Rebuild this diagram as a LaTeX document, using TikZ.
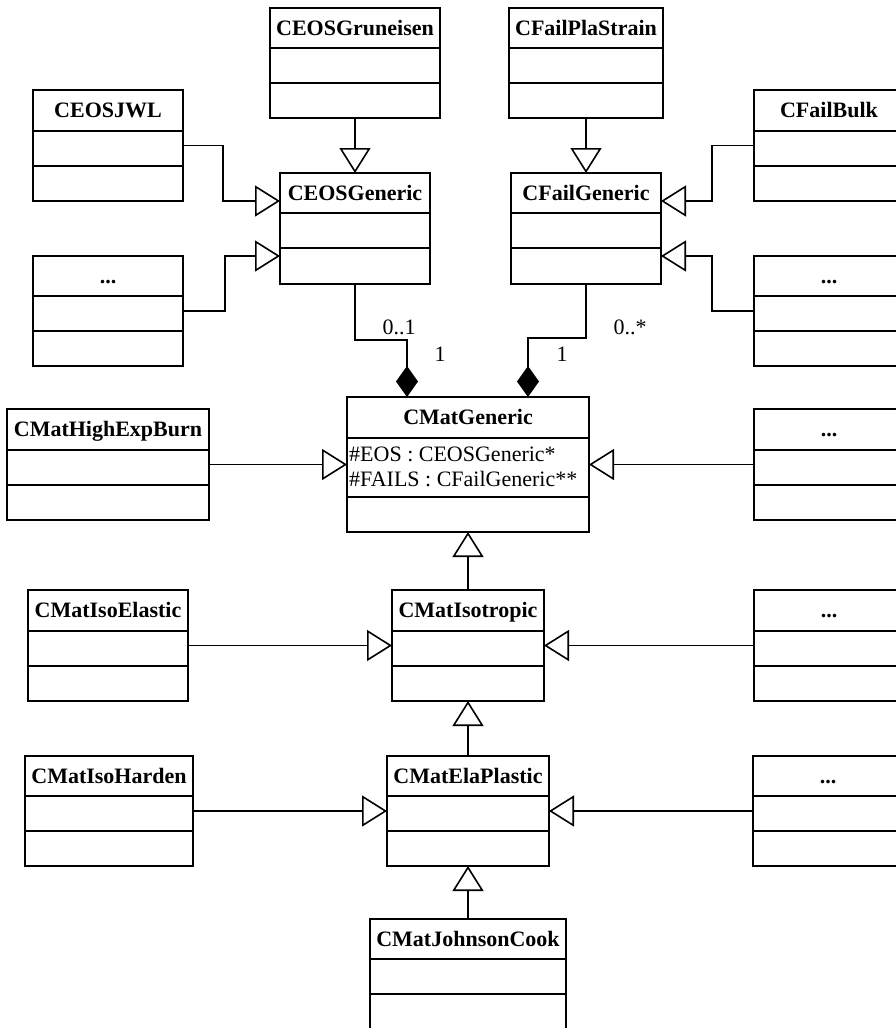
\documentclass[tikz,border=0pt]{standalone}
\usepackage{fontspec}
\setmainfont{Liberation Serif}
\usetikzlibrary{arrows.meta,calc}
\newcommand\umlclass[8]{%
  \node[box, anchor=north west, minimum width=#4pt, minimum height=#5pt+#6pt+#7pt] (#1) at (#2,#3) {};
  \node[ttl] (#1-title) at ($(#1.north)+(0,#5/2)$) {#8};
  \draw[sep] ($(#1.north west)+(0,#5)$) -- ($(#1.north east)+(0,#5)$);
  \draw[sep] ($(#1.north west)+(0,#5+#6)$) -- ($(#1.north east)+(0,#5+#6)$);
}
\begin{document}
\begin{tikzpicture}[x=1pt,y=-1pt,
  box/.style={draw, line width=1.8pt, outer sep=0pt, inner sep=0pt, rectangle},
  ttl/.style={font=\fontsize{22}{26}\selectfont\bfseries, inner sep=0pt, text height=14.5pt, text depth=0pt},
  attr/.style={font=\fontsize{22}{26}\selectfont, inner sep=0pt, anchor=west, text height=14.5pt, text depth=0pt},
  mult/.style={font=\fontsize{22}{26}\selectfont, inner sep=0pt, text height=14.5pt, text depth=0pt},
  sep/.style={line width=1.8pt},
  gen/.style={line width=1.2pt, -{Triangle[open,length=25pt,width=31pt,line width=1.6pt]}},
  comp/.style={line width=1.2pt, -{Diamond[length=31pt,width=22pt]}},
]
\path[use as bounding box] (0,0) rectangle (895,1028);

\umlclass{grun}{270}{8}{170}{40}{35}{35}{CEOSGruneisen}
\umlclass{plas}{509}{8}{154}{40}{35}{35}{CFailPlaStrain}
\umlclass{jwl}{33}{90}{150}{41}{35}{35}{CEOSJWL}
\umlclass{bulk}{754}{90}{150}{41}{35}{35}{CFailBulk}
\umlclass{eosg}{280}{173}{150}{40}{35}{36}{CEOSGeneric}
\umlclass{failg}{511}{173}{150}{40}{35}{36}{CFailGeneric}
\umlclass{eosdots}{33}{256}{150}{40}{35}{35}{...}
\umlclass{faildots}{754}{256}{150}{40}{35}{35}{...}
\umlclass{matg}{347}{397}{242}{41}{59}{35}{CMatGeneric}
\umlclass{hexp}{7}{409}{202}{41}{35}{35}{CMatHighExpBurn}
\umlclass{matdots}{754}{409}{150}{41}{35}{35}{...}
\umlclass{iso}{392}{590}{152}{41}{35}{35}{CMatIsotropic}
\umlclass{isoel}{28}{590}{160}{41}{35}{35}{CMatIsoElastic}
\umlclass{isodots}{754}{590}{150}{41}{35}{35}{...}
\umlclass{ela}{387}{756}{162}{40}{35}{35}{CMatElaPlastic}
\umlclass{isoh}{25}{756}{168}{40}{35}{35}{CMatIsoHarden}
\umlclass{eladots}{753}{756}{150}{40}{35}{35}{...}
\umlclass{jc}{370}{919}{196}{40}{35}{35}{CMatJohnsonCook}

\node[attr] (a1) at (349,454) {\#EOS : CEOSGeneric*};
\node[attr] (a2) at (349,479) {\#FAILS : CFailGeneric**};

\draw[gen] (grun.south) -- (eosg.north);
\draw[gen] (plas.south) -- (failg.north);
\draw[gen] (jwl.east) -- ++(40,0) |- ($(eosg.west)+(0,-27.5)$);
\draw[gen] (eosdots.east) -- ++(42,0) |- ($(eosg.west)+(0,27.5)$);
\draw[gen] (bulk.west) -- ++(-42,0) |- ($(failg.east)+(0,-27.5)$);
\draw[gen] (faildots.west) -- ++(-42,0) |- ($(failg.east)+(0,27.5)$);

\draw[comp] (eosg.south) -- ++(0,56) -| ($(matg.north west)+(60,0)$);
\draw[comp] (failg.south) -- ++(0,54) -| ($(matg.north east)+(-61,0)$);

\node[mult] (m1) at (399,327) {0..1};
\node[mult] (m2) at (440,354) {1};
\node[mult] (m3) at (630,327) {0..*};
\node[mult] (m4) at (562,354) {1};

\draw[gen] (hexp.east) -- (matg.west);
\draw[gen] (matdots.west) -- (matg.east);
\draw[gen] (iso.north) -- (matg.south);
\draw[gen] (isoel.east) -- (iso.west);
\draw[gen] (isodots.west) -- (iso.east);
\draw[gen] (ela.north) -- (iso.south);
\draw[gen] (isoh.east) -- (ela.west);
\draw[gen] (eladots.west) -- (ela.east);
\draw[gen] (jc.north) -- (ela.south);
\end{tikzpicture}
\end{document}
